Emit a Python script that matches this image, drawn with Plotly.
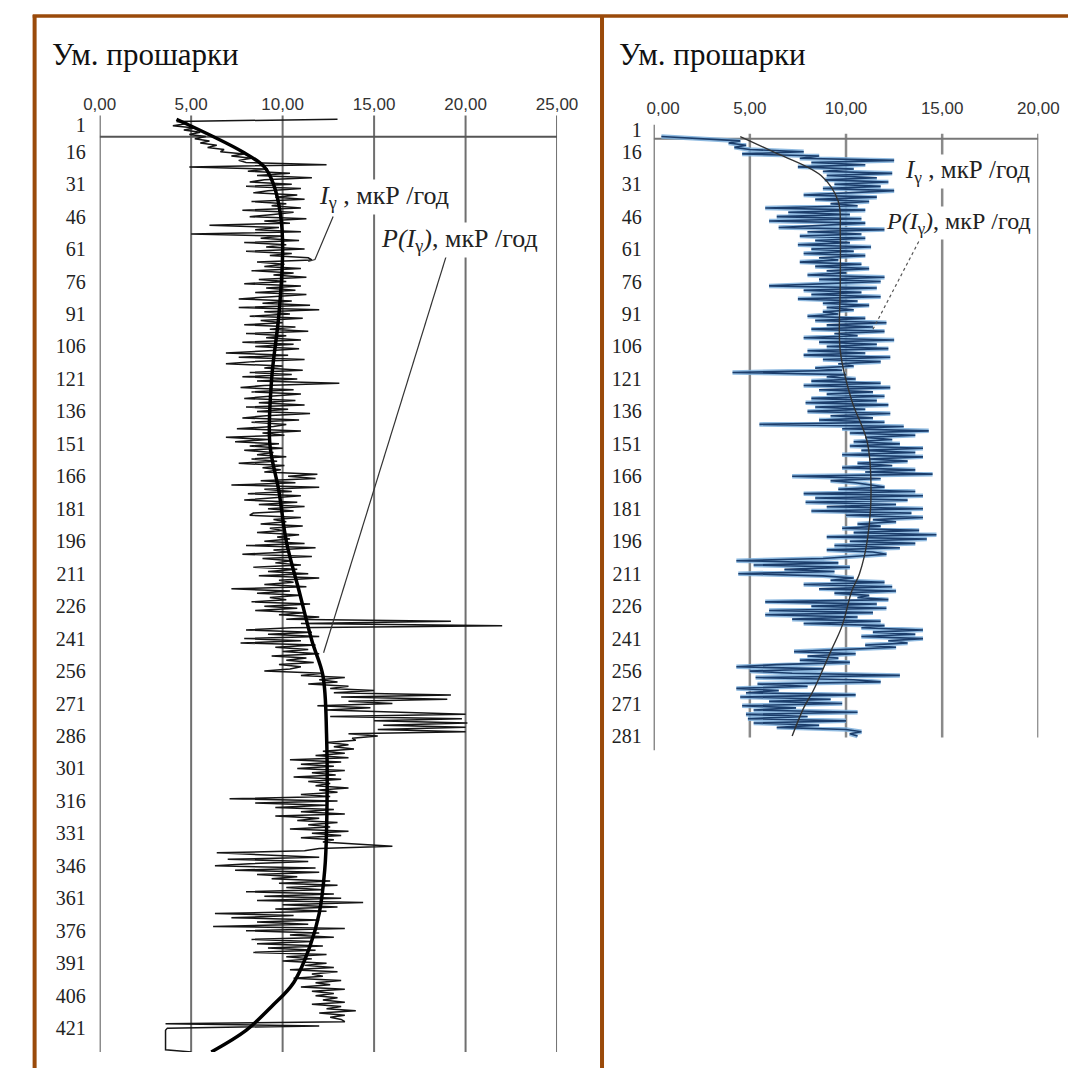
import plotly.graph_objects as go

W, H = 1089, 1068

# ---------------- data: left panel (gamma intensity by layer number) ----------------
left_values = [
    13.0, 4.2, 4.8, 4.0, 5.2, 4.6, 5.5, 4.9, 5.8, 5.2, 6.0, 5.5, 6.4, 5.9, 6.8,
    6.6, 7.9, 7.2, 8.3, 7.6, 8.0, 12.4, 4.9, 9.2, 8.1, 10.4, 8.6, 11.6, 9.0, 8.2,
    10.5, 8.0, 11.0, 9.2, 8.4, 10.8, 9.6, 11.2, 8.3, 10.2, 9.4, 11.0, 7.8, 10.6, 9.5,
    8.2, 11.3, 9.0, 10.4, 6.0, 9.8, 8.5, 11.0, 5.0, 10.0, 8.8, 10.9, 7.9, 10.2, 9.1,
    11.2, 8.0, 10.5, 9.3, 11.4, 11.6, 8.6, 10.1, 9.0, 11.0, 8.3, 10.6, 9.5, 11.3, 8.7,
    10.2, 7.9, 11.0, 9.1, 10.7, 8.5, 11.3, 9.4, 7.6, 10.5, 8.9, 11.5, 7.6, 12.0, 9.0,
    10.4, 8.2, 11.1, 8.8, 10.0, 7.9, 10.7, 9.3, 11.4, 8.0, 10.2, 9.1, 11.0, 7.8, 10.6,
    8.5, 10.9, 9.2, 6.9, 10.3, 7.6, 11.2, 8.4, 6.9, 10.0, 9.0, 11.1, 8.2, 10.5, 7.8,
    10.8, 8.6, 13.1, 9.0, 7.7, 10.6, 8.3, 11.0, 9.3, 7.9, 10.7, 8.7, 11.2, 8.0, 10.3,
    8.6, 11.5, 9.1, 7.8, 10.9, 8.3, 10.2, 9.5, 7.5, 11.0, 8.9, 10.1, 6.9, 9.2, 7.4,
    9.8, 8.2, 10.0, 7.9, 9.5, 8.6, 10.2, 8.3, 9.7, 7.6, 10.1, 8.9, 9.9, 9.0, 11.9,
    10.3, 11.8, 8.8, 10.7, 7.2, 12.0, 9.0, 10.5, 8.1, 11.0, 9.4, 7.9, 10.8, 8.7, 11.2,
    9.2, 10.6, 8.4, 8.2, 11.0, 9.5, 10.2, 8.8, 11.1, 9.3, 10.0, 8.6, 10.9, 9.7, 10.4,
    9.0, 11.2, 8.0, 11.8, 9.5, 10.3, 7.8, 11.6, 8.9, 10.5, 9.6, 11.0, 8.4, 10.8, 9.2,
    11.4, 8.7, 12.0, 9.8, 10.6, 9.0, 11.3, 7.2, 10.4, 8.6, 11.0, 9.3, 10.2, 8.3, 11.5,
    9.0, 10.8, 8.5, 11.2, 9.8, 12.0, 10.2, 19.2, 11.0, 22.0, 10.5, 8.0, 11.6, 9.2, 12.0,
    7.9, 11.0, 7.7, 11.8, 9.6, 11.4, 10.0, 12.0, 9.4, 11.3, 10.2, 11.7, 9.8, 11.0, 10.4,
    9.0, 12.2, 11.0, 13.4, 12.0, 13.0, 11.4, 13.6, 12.6, 15.0, 12.8, 19.2, 13.2, 19.0, 13.6,
    16.0, 11.9, 14.8, 12.4, 16.2, 20.0, 12.6, 19.8, 15.0, 20.1, 15.5, 20.0, 15.2, 20.0, 13.6,
    15.2, 13.8, 14.0, 12.4, 13.6, 12.8, 13.9, 12.2, 13.4, 11.8, 13.6, 10.4, 13.2, 11.0, 12.8,
    10.8, 13.4, 11.6, 12.9, 10.6, 13.2, 11.4, 12.6, 11.8, 13.6, 12.0, 13.0, 11.0, 12.6, 7.1,
    13.0, 8.5, 12.4, 9.6, 12.8, 11.0, 13.4, 9.6, 12.0, 10.8, 13.0, 11.4, 12.6, 10.4, 13.6,
    11.6, 13.2, 11.0, 12.8, 12.2, 14.2, 16.0, 12.0, 11.2, 6.4, 9.6, 12.0, 7.0, 11.4, 8.2,
    6.3, 11.8, 7.4, 12.0, 8.6, 10.8, 9.4, 12.6, 9.8, 13.0, 10.2, 12.2, 8.0, 12.8, 9.0,
    13.2, 8.6, 14.4, 10.0, 13.0, 9.6, 12.4, 6.3, 10.6, 7.2, 12.0, 8.6, 11.4, 6.2, 13.4,
    8.0, 12.0, 10.4, 12.8, 8.3, 11.6, 8.6, 12.2, 9.2, 11.8, 8.4, 12.4, 10.2, 11.6, 10.0,
    12.4, 11.2, 12.8, 10.4, 13.0, 11.6, 12.2, 10.6, 13.2, 11.8, 12.6, 11.0, 13.4, 11.6, 12.8,
    11.8, 13.0, 12.2, 13.4, 11.6, 13.2, 12.4, 14.0, 12.0, 13.4, 12.6, 13.2, 13.4, 3.6, 12.0,
    3.7, 3.6, 3.6, 3.6, 3.6, 3.6, 3.6, 3.6, 3.6, 3.6, 3.6, 5.0,
]
left_layers = list(range(1, len(left_values) + 1))

# polynomial trend P(I) read at selected layers
left_trend_layers = [1, 16, 23, 31, 46, 61, 91, 121, 151, 173, 196, 219, 242, 258,
                     285, 330, 348, 368, 383, 400, 411, 422, 432]
left_trend_values = [4.2, 7.8, 9.0, 9.5, 9.9, 10.0, 9.8, 9.4, 9.3, 9.8, 10.2, 10.9, 11.6, 12.2,
                     12.4, 12.4, 12.3, 12.0, 11.5, 10.6, 9.4, 8.0, 6.1]

# ---------------- data: right panel ----------------
right_values = [
    None, None, None, None, None, None, None, None,
    0.4, 2.7, 4.5, 3.9, 4.8, 4.2, 5.0,
    7.8, 4.6, 8.6, 7.6, 12.5, 8.2, 11.0, 7.5, 10.4, 8.8, 12.4, 9.0, 11.6, 8.9, 12.2,
    9.4, 11.8, 8.8, 12.5, 10.0, 7.8, 11.6, 8.4, 11.2, 9.2, 10.6, 5.8, 11.0, 7.0, 10.2,
    6.4, 10.8, 6.0, 11.0, 8.6, 6.5, 12.1, 8.0, 10.8, 7.6, 11.0, 8.4, 10.2, 7.5, 11.3,
    8.2, 10.4, 7.8, 11.0, 8.6, 9.6, 7.6, 10.8, 8.4, 11.2, 9.0, 10.0, 8.0, 12.0, 8.6,
    11.8, 9.2, 6.0, 11.6, 7.8, 10.8, 8.2, 11.8, 7.5, 10.6, 8.8, 11.2, 9.0, 10.4, 8.8,
    9.6, 8.0, 11.0, 8.4, 12.1, 9.0, 11.4, 8.2, 12.0, 9.4, 10.6, 7.8, 12.5, 8.6, 11.6,
    9.0, 12.2, 8.0, 11.0, 7.8, 12.3, 8.8, 11.8, 9.6, 10.4, 8.4, 9.8, 4.1, 10.0, 9.0,
    10.5, 8.2, 11.8, 7.8, 12.3, 8.6, 11.4, 9.0, 12.0, 8.2, 11.6, 7.9, 12.2, 8.4, 11.0,
    8.0, 12.3, 9.2, 11.4, 8.6, 12.0, 5.5, 13.0, 9.8, 14.3, 10.2, 13.6, 11.0, 12.4, 10.4,
    12.8, 10.2, 14.0, 10.8, 13.6, 9.8, 14.0, 11.2, 13.2, 10.6, 12.4, 9.8, 13.6, 11.0, 14.5,
    7.2, 11.8, 9.2, 10.5, 11.4, 12.0, 9.6, 13.6, 7.8, 14.0, 8.4, 13.2, 7.9, 12.6, 9.0,
    14.0, 8.2, 13.4, 10.0, 14.0, 11.4, 12.6, 10.6, 11.8, 9.8, 13.8, 10.4, 14.7, 9.0, 14.2,
    10.2, 13.6, 9.4, 12.8, 9.0, 11.4, 12.1, 10.5, 8.8, 4.3, 9.6, 5.2, 10.2, 6.8, 9.4,
    4.4, 8.8, 10.4, 9.2, 12.0, 7.8, 12.4, 8.6, 12.6, 9.4, 11.2, 10.6, 12.2, 5.8, 11.6,
    8.2, 12.1, 6.0, 11.4, 5.8, 10.6, 7.2, 11.8, 7.8, 12.0, 10.8, 14.0, 11.4, 13.6, 10.8,
    14.0, 12.2, 13.2, 11.0, 12.6, 10.2, 7.3, 10.5, 8.0, 9.6, 7.6, 10.2, 6.4, 4.3, 8.8,
    5.0, 7.2, 12.8, 5.3, 10.4, 11.8, 5.4, 8.0, 4.3, 6.5, 4.8, 10.5, 4.5, 9.2, 6.0,
    9.8, 4.6, 7.4, 5.2, 10.6, 4.8, 8.0, 4.9, 10.0, 5.2, 8.6, 6.4, 10.0, 10.8, 10.2, 10.6,
]
right_layers = list(range(1, len(right_values) + 1))

right_trend_layers = [9, 16, 27, 39, 54, 78, 108, 131, 150, 173, 196, 211, 219, 235, 247, 265, 273, 286]
right_trend_values = [4.5, 6.2, 8.7, 9.6, 9.7, 9.7, 9.7, 10.3, 11.1, 11.3, 11.1, 10.7, 10.3, 9.8, 9.2, 8.3, 7.8, 7.2]

# ---------------- axis ticks ----------------
left_x_ticks = [0, 5, 10, 15, 20, 25]
left_x_labels = ["0,00", "5,00", "10,00", "15,00", "20,00", "25,00"]
right_x_ticks = [0, 5, 10, 15, 20]
right_x_labels = ["\u00a0\u00a0\u00a0\u00a00,00", "5,00", "10,00", "15,00", "20,00"]
# the first label "1" sits a little below its category in the original
left_y_ticks = [3.5] + list(range(16, 422, 15))
left_y_labels = [str(v) for v in range(1, 422, 15)]
right_y_ticks = [6.0] + list(range(16, 287, 15))
right_y_labels = [str(v) for v in range(1, 272, 15)] + ["281"]

title_text = "Ум. прошарки"
label_I = "<i>I</i><sub>γ</sub> , мкР /год"
label_P = "<i>P(I</i><sub>γ</sub><i>)</i>, мкР /год"

# ---------------- helpers ----------------
def px(x):
    return x / W

def py(y):
    return 1 - y / H

BROWN = "#9a4a0a"
GRID = "#6f6f6f"

fig = go.Figure()

# left panel traces
fig.add_trace(go.Scatter(x=left_values, y=left_layers, mode="lines",
                         line=dict(color="#151515", width=1.5),
                         xaxis="x", yaxis="y", showlegend=False, hoverinfo="skip"))
fig.add_trace(go.Scatter(x=left_trend_values, y=left_trend_layers, mode="lines",
                         line=dict(color="#000000", width=3.5, shape="spline", smoothing=1.0),
                         xaxis="x", yaxis="y", showlegend=False, hoverinfo="skip"))

# right panel traces
fig.add_trace(go.Scatter(x=right_values, y=right_layers, mode="lines",
                         line=dict(color="rgba(125,175,220,0.85)", width=4.5),
                         xaxis="x2", yaxis="y2", showlegend=False, hoverinfo="skip"))
fig.add_trace(go.Scatter(x=right_values, y=right_layers, mode="lines",
                         line=dict(color="#1b3d6b", width=1.6),
                         xaxis="x2", yaxis="y2", showlegend=False, hoverinfo="skip"))
fig.add_trace(go.Scatter(x=right_trend_values, y=right_trend_layers, mode="lines",
                         line=dict(color="#333333", width=1.4, shape="spline", smoothing=1.0),
                         xaxis="x2", yaxis="y2", showlegend=False, hoverinfo="skip"))

shapes = []
# left gridlines (full height) and value-axis line
for v in left_x_ticks:
    shapes.append(dict(type="line", xref="x", yref="y domain", x0=v, x1=v, y0=0, y1=1,
                       line=dict(color=GRID if v else "#555555", width=2), layer="below"))
shapes.append(dict(type="line", xref="x", yref="y", x0=0, x1=25, y0=9.1, y1=9.1,
                   line=dict(color="#555555", width=2), layer="below"))
# right gridlines
for v in right_x_ticks[1:]:
    shapes.append(dict(type="line", xref="x2", yref="y2", x0=v, x1=v, y0=7.7, y1=286.7,
                       line=dict(color="#8a8a8a", width=2.5), layer="below"))
shapes.append(dict(type="line", xref="x2", yref="y2", x0=0, x1=0, y0=3.5, y1=292.7,
                   line=dict(color="#555555", width=2), layer="below"))
shapes.append(dict(type="line", xref="x2", yref="y2", x0=0, x1=20, y0=10.0, y1=10.0,
                   line=dict(color="#777777", width=2), layer="below"))

# leader lines
lead = dict(color="#333333", width=1.2)
shapes.append(dict(type="path", xref="paper", yref="paper",
                   path=f"M {px(321)} {py(215)} L {px(302)} {py(258)} L {px(295)} {py(260)}",
                   line=lead))
shapes.append(dict(type="line", xref="paper", yref="paper", x0=px(440), y0=py(252),
                   x1=px(311), y1=py(652), line=lead))
shapes.append(dict(type="line", xref="paper", yref="paper", x0=px(933), y0=py(240),
                   x1=px(884), y1=py(330), line=dict(color="#555555", width=1.2, dash="dot")))

# brown table frame
shapes.append(dict(type="line", xref="paper", yref="paper", x0=px(7), x1=1, y0=py(14), y1=py(14),
                   line=dict(color=BROWN, width=3.5)))
shapes.append(dict(type="line", xref="paper", yref="paper", x0=px(9), x1=px(9), y0=py(13), y1=0,
                   line=dict(color=BROWN, width=4)))
shapes.append(dict(type="line", xref="paper", yref="paper", x0=px(602), x1=px(602), y0=py(13), y1=0,
                   line=dict(color=BROWN, width=4)))

serif = "Liberation Serif, Times New Roman, serif"
annotations = [
    dict(text=title_text, x=px(25), y=py(53), xref="paper", yref="paper", xanchor="left",
         yanchor="middle", showarrow=False, font=dict(family=serif, size=31, color="#111")),
    dict(text=title_text, x=px(618), y=py(53), xref="paper", yref="paper", xanchor="left",
         yanchor="middle", showarrow=False, font=dict(family=serif, size=31, color="#111")),
    dict(text=label_I, x=px(304), y=py(195), xref="paper", yref="paper", xanchor="left",
         yanchor="middle", showarrow=False, bgcolor="white",
         font=dict(family=serif, size=26, color="#222")),
    dict(text=label_P, x=px(369), y=py(238), xref="paper", yref="paper", xanchor="left",
         yanchor="middle", showarrow=False, bgcolor="white",
         font=dict(family=serif, size=26, color="#222")),
    dict(text=label_I, x=px(917), y=py(170), xref="paper", yref="paper", xanchor="left",
         yanchor="middle", showarrow=False, bgcolor="white",
         font=dict(family=serif, size=25, color="#222")),
    dict(text=label_P, x=px(897), y=py(221), xref="paper", yref="paper", xanchor="left",
         yanchor="middle", showarrow=False, bgcolor="white",
         font=dict(family=serif, size=24, color="#222")),
]

xtickfont = dict(family="Liberation Sans, Arial, sans-serif", size=17, color="#333")
ytickfont = dict(family=serif, size=20, color="#222")

fig.update_layout(
    width=W, height=H, autosize=False,
    margin=dict(l=0, r=0, t=0, b=0),
    paper_bgcolor="white", plot_bgcolor="rgba(0,0,0,0)",
    xaxis=dict(domain=[px(77), px(555)], range=[0, 25], side="top", anchor="free",
               position=py(112), tickmode="array", tickvals=left_x_ticks, ticktext=left_x_labels,
               showgrid=False, zeroline=False, showline=False, ticks="", tickfont=xtickfont),
    yaxis=dict(domain=[py(1051.9), py(113.8)], range=[432, -0.7], anchor="x",
               tickmode="array", tickvals=left_y_ticks, ticktext=left_y_labels,
               showgrid=False, zeroline=False, showline=False, ticks="outside", ticklen=9,
               tickcolor="rgba(0,0,0,0)", tickfont=ytickfont),
    xaxis2=dict(domain=[px(656), px(1058)], range=[0, 20], side="top", anchor="free",
                position=py(116), tickmode="array", tickvals=right_x_ticks, ticktext=right_x_labels,
                showgrid=False, zeroline=False, showline=False, ticks="", tickfont=xtickfont),
    yaxis2=dict(domain=[py(749.9), py(116.4)], range=[292.7, 0.5], anchor="x2",
                tickmode="array", tickvals=right_y_ticks, ticktext=right_y_labels,
                showgrid=False, zeroline=False, showline=False, ticks="outside", ticklen=7,
                tickcolor="rgba(0,0,0,0)", tickfont=ytickfont),
    shapes=shapes,
    annotations=annotations,
)

fig.write_html("out.html", post_script="document.body.style.margin='0';")
